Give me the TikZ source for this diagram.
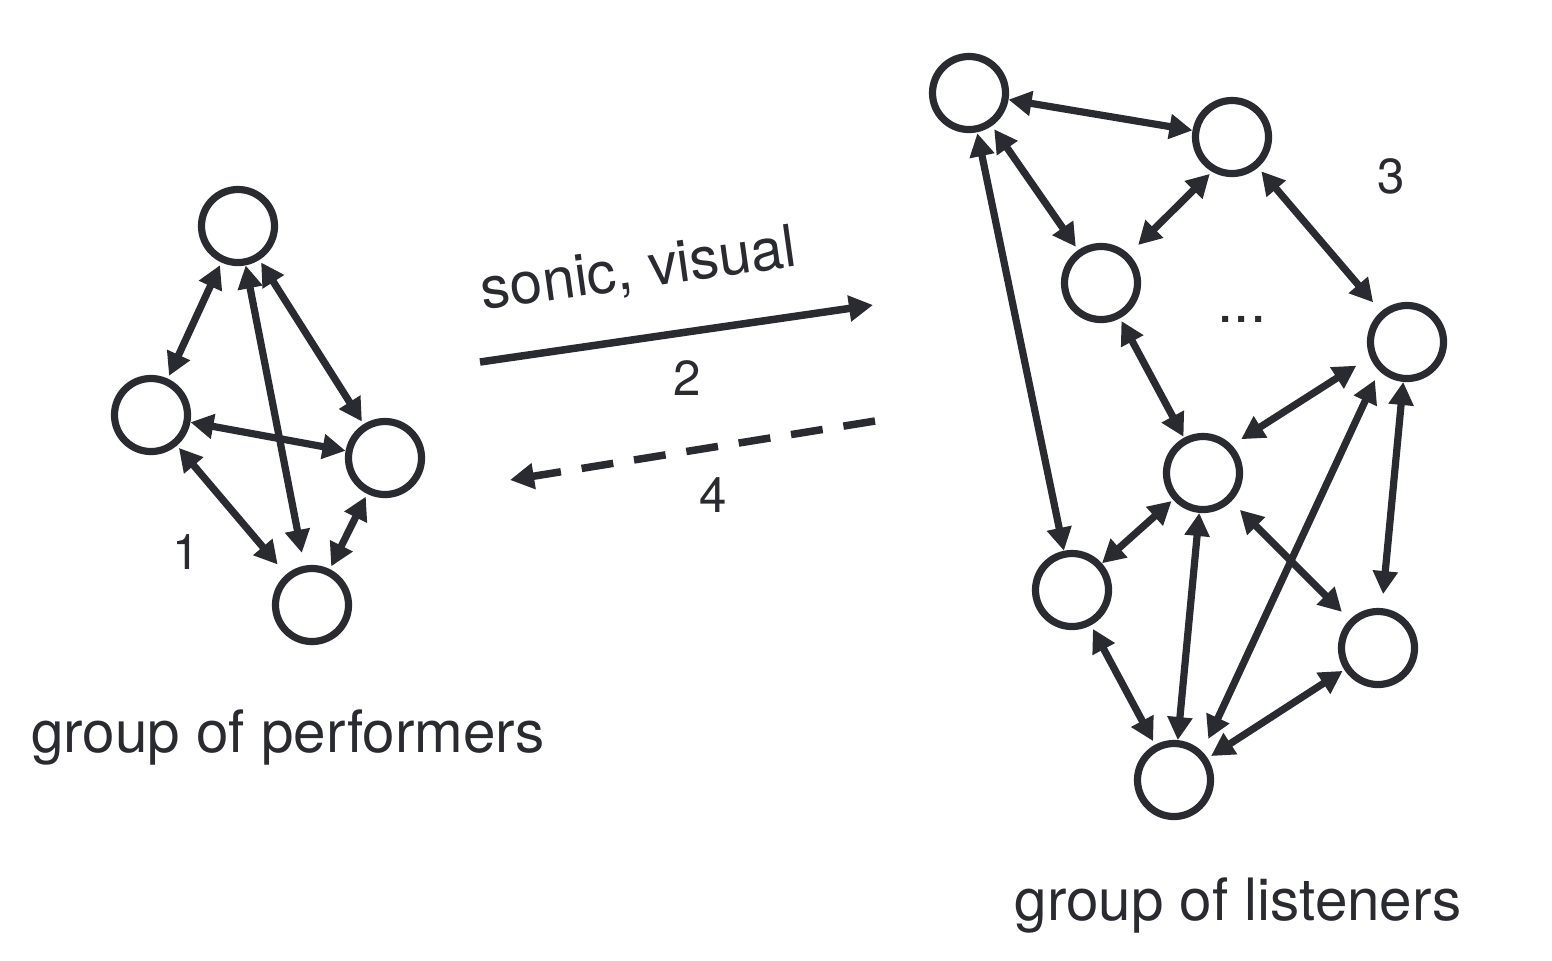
\documentclass[tikz,border=0pt]{standalone}
\usepackage{fontspec}
\setmainfont{TeX Gyre Heros}
\usepackage{tikz}
\usetikzlibrary{positioning,calc,arrows.meta}
\definecolor{ink}{RGB}{42,43,48}

\begin{document}
\begin{tikzpicture}[x=0.01cm,y=-0.01cm,
    member/.style={circle,draw=ink,line width=0.072cm,minimum size=0.73cm,inner sep=0pt},
    link/.style={draw=ink,line width=0.072cm,<->,>={Triangle[length=0.23cm,width=0.24cm]},shorten <=0.03cm,shorten >=0.03cm},
    flow/.style={draw=ink,line width=0.075cm,->,>={Triangle[length=0.24cm,width=0.25cm]}},
    num/.style={text=ink,font=\fontsize{14pt}{14pt}\selectfont,inner sep=0pt},
    grouplabel/.style={text=ink,font=\fontsize{16.6pt}{16.6pt}\selectfont,inner sep=0pt,anchor=base}]
    \useasboundingbox (0,0) rectangle (1552,960);

    \node (perf-top) [member] at (238,226) {};
    \node (perf-left) [member] at (151,415) {};
    \node (perf-right) [member] at (385,458) {};
    \node (perf-bottom) [member] at (312,605) {};

    \draw [link] (perf-top) -- (perf-left);
    \draw [link] (perf-top) -- (perf-right);
    \draw [link,shorten <=0cm,shorten >=0.13cm] (perf-top) -- (perf-bottom);
    \draw [link,shorten <=0cm,shorten >=0cm] (perf-left) -- (perf-right);
    \draw [link,shorten >=0.13cm] (perf-left) -- (perf-bottom);
    \draw [link] (perf-right) -- (perf-bottom);
    \node (perf-num) [num] at (186,552) {1};
    \node (perf-caption) [grouplabel] at (288,752) {group of performers};

    \node (lstn-nw) [member] at (969,93) {};
    \node (lstn-n) [member] at (1232,137) {};
    \node (lstn-inner) [member] at (1101,283) {};
    \node (lstn-e) [member] at (1407,342) {};
    \node (lstn-centre) [member] at (1203,473) {};
    \node (lstn-w) [member] at (1072,590) {};
    \node (lstn-se) [member] at (1378,648) {};
    \node (lstn-s) [member] at (1174,780) {};

    \draw [link,shorten <=0cm,shorten >=0cm] (lstn-nw) -- (lstn-n);
    \draw [link,shorten <=0.04cm,shorten >=0.04cm] (lstn-nw) -- (lstn-inner);
    \draw [link,shorten <=0.01cm,shorten >=0cm] (lstn-nw) -- (lstn-w);
    \draw [link,shorten >=0.13cm] (lstn-n.240) -- (lstn-inner.46);
    \draw [link,shorten <=0.05cm,shorten >=0.12cm] (lstn-n) -- (lstn-e);
    \draw [link,shorten >=0.01cm] (lstn-inner) -- (lstn-centre);
    \draw [link,shorten <=0.11cm,shorten >=0.16cm] (lstn-centre.44) -- (lstn-e.202);
    \draw [link,shorten <=0.14cm,shorten >=0.1cm] (lstn-s.45) -- (lstn-e.226);
    \draw [link,shorten <=0cm,shorten >=0.14cm] (lstn-e) -- (lstn-se);
    \draw [link,shorten <=0.02cm,shorten >=0cm] (lstn-centre) -- (lstn-w);
    \draw [link,shorten <=0cm,shorten >=0cm] (lstn-centre) -- (lstn-s);
    \draw [link,shorten <=0.12cm,shorten >=0.11cm] (lstn-centre) -- (lstn-se);
    \draw [link,shorten <=0.04cm,shorten >=0.04cm] (lstn-w) -- (lstn-s);
    \draw [link,shorten <=0.02cm,shorten >=0.04cm] (lstn-se) -- (lstn-s);
    \node (lstn-more) [num,anchor=base,font=\fontsize{16.6pt}{16.6pt}\selectfont] at (1242,322) {...};
    \node (lstn-num) [num] at (1391,176) {3};
    \node (lstn-caption) [grouplabel] at (1238,920) {group of listeners};

    \coordinate (send-from) at (480,362);
    \coordinate (send-to) at (873,305);
    \draw [flow] (send-from) -- (send-to);
    \node (send-text) [grouplabel,anchor=center,rotate=8] at (639,271) {sonic, visual};
    \node (send-num) [num] at (687,378) {2};

    \coordinate (reply-from) at (875,421);
    \coordinate (reply-to) at (510,480);
    \draw [flow,dash pattern=on 0.32cm off 0.21cm] (reply-from) -- (reply-to);
    \node (reply-num) [num] at (713,495) {4};
\end{tikzpicture}
\end{document}
